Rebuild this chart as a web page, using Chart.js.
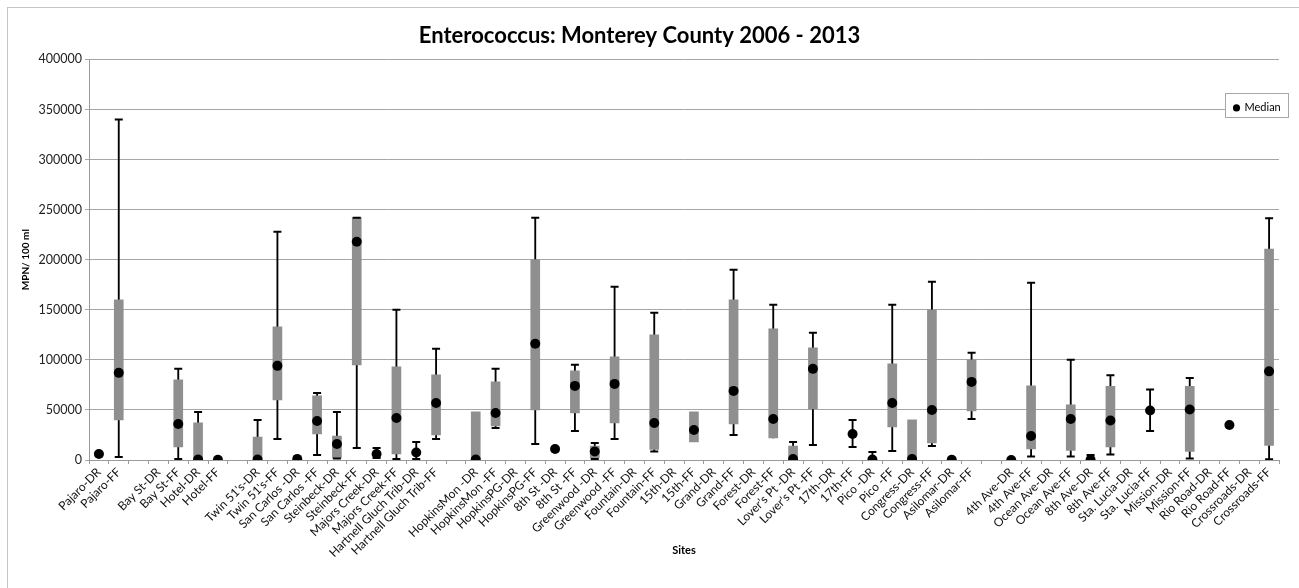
<!DOCTYPE html>
<html>
<head>
<meta charset="utf-8">
<title>Enterococcus: Monterey County 2006 - 2013</title>
<script src="https://cdn.jsdelivr.net/npm/chart.js@4.4.1/dist/chart.umd.min.js"></script>
<style>
  html, body { margin: 0; padding: 0; background: #fff; overflow: hidden; }
  #wrap { position: relative; width: 1299px; height: 588px; }
  #frame { position: absolute; left: 7px; top: 7px; width: 1400px; height: 700px; border: 1px solid #c4c4c4; }
  #graph { position: absolute; left: 0; top: 0; }
</style>
</head>
<body>
<div id="wrap">
  <div id="frame"></div>
  <canvas id="graph" width="1299" height="588"></canvas>
</div>
<script>
// sites, blank entries are the gaps between beach groups
const sites = [
  'Pajaro-DR', 'Pajaro-FF', '', 'Bay St-DR', 'Bay St-FF', 'Hotel-DR', 'Hotel-FF', '',
  "Twin 51's-DR", "Twin 51's-FF", 'San Carlos -DR', 'San Carlos -FF', 'Steinbeck-DR', 'Steinbeck-FF',
  'Majors Creek-DR', 'Majors Creek-FF', 'Hartnell Gluch Trib-DR', 'Hartnell Gluch Trib-FF', '',
  'HopkinsMon -DR', 'HopkinsMon -FF', 'HopkinsPG-DR', 'HopkinsPG-FF', '8th St -DR', '8th St -FF',
  'Greenwood -DR', 'Greenwood -FF', 'Fountain-DR', 'Fountain-FF', '15th-DR', '15th-FF',
  'Grand-DR', 'Grand-FF', 'Forest-DR', 'Forest-FF', "Lover's Pt -DR", "Lover's Pt -FF",
  '17th-DR', '17th-FF', 'Pico -DR', 'Pico -FF', 'Congress-DR', 'Congress-FF',
  'Asilomar-DR', 'Asilomar-FF', '',
  '4th Ave-DR', '4th Ave-FF', 'Ocean Ave-DR', 'Ocean Ave-FF', '8th Ave-DR', '8th Ave-FF',
  'Sta. Lucia-DR', 'Sta. Lucia-FF', 'Mission-DR', 'Mission-FF', 'Rio Road-DR', 'Rio Road-FF',
  'Crossroads-DR', 'Crossroads-FF'
];

const whiskerLow = [
  null, 3000, null, null, 1000, null, null, null,
  null, 21000, null, 5000, 1500, 12000,
  2000, 1000, 1000, 21000, null,
  null, 32000, null, 16000, null, 29000,
  1000, 21000, null, 8500, null, null,
  null, 25000, null, null, null, 15000,
  null, 13000, null, 9000, null, 14000,
  null, 41000, null,
  null, 3500, null, 3500, null, 5500,
  null, 29000, null, 1500, null, null,
  null, 700
];

const boxLow = [
  null, 40000, null, null, 13000, 0, null, null,
  0, 60000, null, 26000, 2000, 95000,
  null, 6000, null, 25000, null,
  0, 34000, null, 50000, null, 47000,
  2000, 37000, null, 10500, null, 18000,
  null, 36000, null, 22000, 0, 51000,
  null, null, null, 33000, 0, 17000,
  null, 49000, null,
  null, 11000, null, 9500, null, 13000,
  null, null, null, 8500, null, null,
  null, 14500
];

const median = [
  6000, 87000, null, null, 36000, 500, 300, null,
  500, 94000, 1000, 39000, 16000, 218000,
  6000, 42000, 7500, 57000, null,
  500, 47000, null, 116000, 11000, 74000,
  8500, 76000, null, 37000, null, 30000,
  null, 69000, null, 41000, 1000, 91000,
  null, 26000, 500, 57000, 1000, 50000,
  300, 78000, null,
  0, 24000, null, 41000, 300, 39500,
  null, 49500, null, 50500, null, 35000,
  null, 88500
];

const boxHigh = [
  null, 160000, null, null, 80000, 37000, null, null,
  23000, 133000, null, 64000, 24000, 242000,
  null, 93000, null, 85000, null,
  48000, 78000, null, 200000, null, 89000,
  14000, 103000, null, 125000, null, 48000,
  null, 160000, null, 131000, 14000, 112000,
  null, null, null, 96000, 40000, 150000,
  null, 100000, null,
  null, 74000, null, 55000, null, 73500,
  null, null, null, 73500, null, null,
  null, 210500
];

const whiskerHigh = [
  null, 340000, null, null, 91000, 48000, null, null,
  40000, 228000, 3500, 67000, 48000, 242000,
  12000, 150000, 18000, 111000, null,
  null, 91000, null, 242000, null, 95000,
  17000, 173000, null, 147000, null, null,
  null, 190000, null, 155000, 18000, 127000,
  null, 40000, 8000, 155000, null, 178000,
  null, 107000, null,
  null, 177000, null, 100000, 5000, 84500,
  null, 70500, null, 82000, null, null,
  null, 241500
];

const yTicks = { min: 0, max: 400000, step: 50000 };

// built from the arrays above
const whiskers = sites.map((s, i) => {
  if (whiskerLow[i] == null && whiskerHigh[i] == null) return null;
  const lo = whiskerLow[i] ?? boxLow[i] ?? median[i];
  const hi = whiskerHigh[i] ?? boxHigh[i] ?? median[i];
  return [lo, hi];
});
const boxes = sites.map((s, i) =>
  boxLow[i] != null && boxHigh[i] != null ? [boxLow[i], boxHigh[i]] : null);

Chart.defaults.font.family = 'Lato, "Open Sans", sans-serif';
Chart.defaults.color = '#222';

// excel style legend box sitting inside the plot, top right
const legendBox = {
  id: 'legendBox',
  afterLayout(chart) {
    const lg = chart.legend;
    const ca = chart.chartArea;
    lg.left = ca.right - 54;
    lg.top = ca.top + 34;
    lg.width = 63;
    lg.height = 24;
    lg.right = lg.left + lg.width;
    lg.bottom = lg.top + lg.height;
  },
  afterDraw(chart) {
    const lg = chart.legend;
    const ctx = chart.ctx;
    ctx.save();
    ctx.fillStyle = '#fff';
    ctx.fillRect(lg.left, lg.top, lg.width, lg.height);
    ctx.strokeStyle = '#a8a8a8';
    ctx.lineWidth = 1;
    ctx.strokeRect(Math.round(lg.left) + 0.5, Math.round(lg.top) + 0.5, lg.width, lg.height);
    ctx.restore();
    lg.draw();
  }
};

new Chart(document.getElementById('graph'), {
  type: 'bar',
  data: {
    labels: sites,
    datasets: [
      {
        label: 'Median',
        type: 'line',
        data: median,
        showLine: false,
        pointStyle: 'circle',
        pointRadius: 5,
        pointBackgroundColor: '#000',
        pointBorderColor: '#000',
        pointBorderWidth: 0,
        order: 0
      },
      {
        label: 'Max',
        type: 'line',
        data: whiskerHigh,
        showLine: false,
        pointStyle: 'line',
        pointRadius: 4,
        pointBorderWidth: 2,
        pointBorderColor: '#000',
        order: 1
      },
      {
        label: 'Min',
        type: 'line',
        data: whiskerLow,
        showLine: false,
        pointStyle: 'line',
        pointRadius: 4,
        pointBorderWidth: 2,
        pointBorderColor: '#000',
        order: 1
      },
      {
        label: 'Quartiles',
        data: boxes,
        backgroundColor: '#8f8f8f',
        borderWidth: 0,
        barThickness: 9,
        grouped: false,
        order: 2
      },
      {
        label: 'Range',
        data: whiskers,
        backgroundColor: '#000',
        borderWidth: 0,
        barThickness: 1.2,
        grouped: false,
        order: 3
      }
    ]
  },
  options: {
    responsive: false,
    animation: false,
    layout: { padding: { left: 0, right: 20, top: 0, bottom: 30 } },
    plugins: {
      title: {
        display: true,
        text: 'Enterococcus: Monterey County 2006 - 2013',
        color: '#000',
        font: { size: 22, weight: 'bold' },
        padding: { top: 23, bottom: 10 }
      },
      legend: {
        position: 'chartArea',
        align: 'start',
        labels: {
          filter: item => item.text === 'Median',
          usePointStyle: true,
          boxWidth: 5,
          boxHeight: 5,
          padding: 9,
          color: '#000',
          font: { size: 11 }
        }
      },
      tooltip: { enabled: false }
    },
    scales: {
      x: {
        afterFit: s => { s.height = 98; },
        grid: { drawOnChartArea: false, drawTicks: true, tickLength: 4, color: '#9a9a9a' },
        border: { color: '#9a9a9a' },
        ticks: {
          autoSkip: false,
          maxRotation: 45,
          minRotation: 45,
          padding: 1,
          color: '#111',
          font: { size: 12 }
        },
        title: {
          display: true,
          text: 'Sites',
          color: '#000',
          font: { size: 11, weight: 'bold' },
          padding: { top: 4, bottom: 1 }
        }
      },
      y: {
        min: yTicks.min,
        max: yTicks.max,
        afterFit: s => { s.width = 89; },
        grid: { color: '#a6a6a6', tickLength: 4 },
        border: { color: '#9a9a9a' },
        ticks: {
          stepSize: yTicks.step,
          padding: 3,
          color: '#222',
          font: { size: 12.5 },
          callback: v => String(v)
        },
        title: {
          display: true,
          text: 'MPN/ 100 ml',
          color: '#000',
          font: { size: 10, weight: 'bold' },
          padding: { top: 20, bottom: 0 }
        }
      }
    }
  },
  plugins: [legendBox]
});
</script>
</body>
</html>
